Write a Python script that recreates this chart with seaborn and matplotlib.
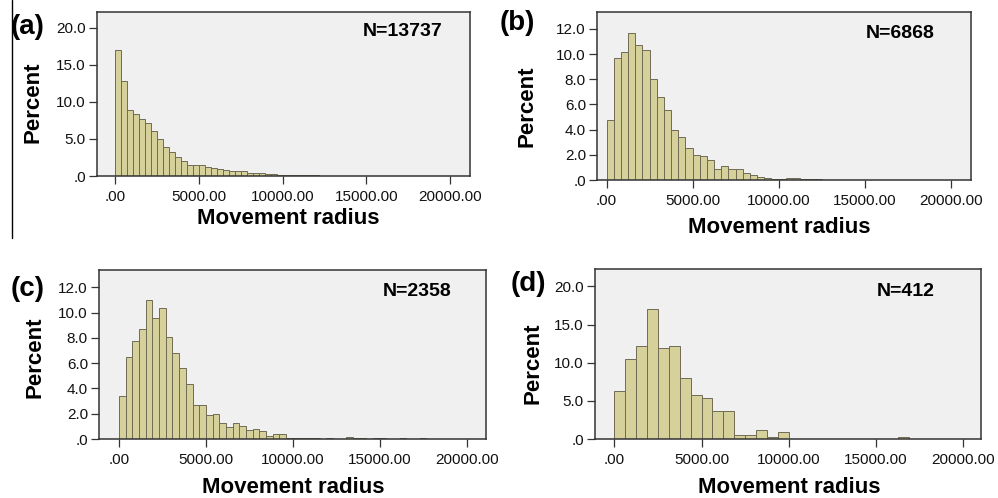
import numpy as np
import pandas as pd
import matplotlib
matplotlib.use("Agg")
import matplotlib.pyplot as plt
from matplotlib.ticker import FuncFormatter
from matplotlib.lines import Line2D
import seaborn as sns

# percent of trips per bin
width_a = 5000 / 14
pct_a = [17.0, 12.9, 8.95, 8.35, 7.7, 7.2, 6.1, 5.0, 3.9, 3.25, 2.5, 2.05, 1.55, 1.5,
         1.55, 1.2, 1.05, 1.0, 0.85, 0.7, 0.7, 0.68, 0.45, 0.42, 0.45, 0.3, 0.22, 0.2,
         0.18, 0.15, 0.12, 0.1, 0.08, 0.07, 0.05, 0.05, 0.04, 0.03, 0.03, 0.02]

width_b = 5000 / 12
pct_b = [4.8, 9.7, 10.2, 11.65, 10.7, 10.3, 8.0, 6.6, 5.57, 3.95, 3.45, 2.55, 2.0, 1.9,
         1.55, 0.88, 1.1, 0.85, 0.85, 0.53, 0.37, 0.27, 0.16, 0.05, 0.1, 0.16, 0.13, 0.05,
         0.08, 0.08, 0.03, 0.03, 0.02, 0.02, 0.03, 0.03, 0.02, 0.03, 0.02, 0.02]

width_c = 5000 / 13
pct_c = [3.42, 6.47, 7.74, 8.7, 10.97, 9.55, 10.34, 8.05, 6.79, 5.58, 4.39, 2.71, 2.66,
         1.9, 1.97, 1.26, 0.95, 1.26, 1.05, 0.71, 0.82, 0.63, 0.21, 0.37, 0.37, 0.04,
         0.04, 0.04, 0.04, 0.04, 0, 0.04, 0, 0, 0.13, 0.04, 0.04, 0, 0.04, 0.04, 0, 0,
         0.04, 0, 0, 0.04]

width_d = 625
pct_d = [6.31, 10.44, 12.14, 16.99, 11.89, 12.14, 8.01, 5.83, 5.34, 3.64, 3.64, 0.49,
         0.49, 1.21, 0.24, 0.97, 0, 0, 0, 0, 0, 0, 0, 0, 0, 0, 0.24]

panel_labels = ["(a)", "(b)", "(c)", "(d)"]
n_labels = ["N=13737", "N=6868", "N=2358", "N=412"]
x_ticks = [0, 5000, 10000, 15000, 20000]
y_ticks_a = [0, 5, 10, 15, 20]
y_ticks_b = [0, 2, 4, 6, 8, 10, 12]
y_ticks_c = [0, 2, 4, 6, 8, 10, 12]
y_ticks_d = [0, 5, 10, 15, 20]

BAR = "#d6d09a"
EDGE = "#6f6b55"
BG = "#f0f0f0"
DARK = "#333333"

W, H = 998, 498

sns.set_theme(style="white")
plt.rcParams["font.family"] = ["Liberation Sans", "DejaVu Sans"]
plt.rcParams["text.color"] = "black"

fig = plt.figure(figsize=(W / 100, H / 100), dpi=100)


def fx(x):
    return x / W


def fy(y):
    return 1 - y / H


# (pixel box: left, top, right, bottom), xlim, ylim, label spots
panels = [
    dict(pct=pct_a, w=width_a, yt=y_ticks_a, box=(97, 12, 470, 176),
         xlim=(-1106, 21200), ytop=22.16,
         lab=(11, 27), n=(443, 32), yl=(33, 102), xl=(288, 218)),
    dict(pct=pct_b, w=width_b, yt=y_ticks_b, box=(597, 12, 971, 180),
         xlim=(-558, 21186), ytop=13.35,
         lab=(500, 23), n=(935, 33), yl=(527, 106), xl=(779, 227)),
    dict(pct=pct_c, w=width_c, yt=y_ticks_c, box=(99, 270, 486, 439),
         xlim=(-1151, 21116), ytop=13.37,
         lab=(11, 289), n=(451, 292), yl=(35, 357), xl=(293, 487)),
    dict(pct=pct_d, w=width_d, yt=y_ticks_d, box=(595, 269, 981, 439),
         xlim=(-1106, 21014), ytop=22.28,
         lab=(511, 284), n=(935, 292), yl=(533, 363), xl=(789, 487)),
]

xfmt = FuncFormatter(lambda v, p: f"{v:.2f}".lstrip("0") if v == 0 else f"{v:.2f}")
yfmt = FuncFormatter(lambda v, p: f"{v:.1f}".lstrip("0") if v == 0 else f"{v:.1f}")

for i, p in enumerate(panels):
    l, t, r, b = p["box"]
    ax = fig.add_axes([fx(l), fy(b), (r - l) / W, (b - t) / H])
    ax.set_facecolor(BG)
    pct = p["pct"]
    edges = [k * p["w"] for k in range(len(pct) + 1)]
    df = pd.DataFrame({
        "radius": [(edges[k] + edges[k + 1]) / 2 for k in range(len(pct))],
        "percent": pct,
    })
    sns.histplot(data=df, x="radius", weights="percent", bins=edges, ax=ax,
                 color=BAR, edgecolor=EDGE, linewidth=0.7, alpha=1.0)
    ax.set_xlim(*p["xlim"])
    ax.set_ylim(0, p["ytop"])
    ax.set_xticks(x_ticks)
    ax.set_yticks(p["yt"])
    ax.xaxis.set_major_formatter(xfmt)
    ax.yaxis.set_major_formatter(yfmt)
    ax.set_xlabel("")
    ax.set_ylabel("")
    ax.grid(False)
    for s in ax.spines.values():
        s.set_color(DARK)
        s.set_linewidth(1.1)
    ax.tick_params(axis="both", direction="out", length=6, width=0.9, color=DARK,
                   labelsize=11, labelcolor="#111111")
    ax.tick_params(axis="x", pad=4)
    ax.tick_params(axis="y", pad=2)
    ax.tick_params(bottom=True, left=True)

    fig.text(fx(p["lab"][0]), fy(p["lab"][1]), panel_labels[i], fontsize=20,
             fontweight="bold", ha="left", va="center")
    fig.text(fx(p["n"][0]), fy(p["n"][1]), n_labels[i], fontsize=14,
             fontweight="bold", ha="right", va="center")
    fig.text(fx(p["yl"][0]), fy(p["yl"][1]), "Percent", fontsize=16,
             fontweight="bold", rotation=90, ha="center", va="center")
    fig.text(fx(p["xl"][0]), fy(p["xl"][1]), "Movement radius", fontsize=16,
             fontweight="bold", ha="center", va="center")

# thin frame line on the left of the top-left panel
fig.add_artist(Line2D([fx(12), fx(12)], [fy(0), fy(238)], color="black", linewidth=1))

fig.savefig("out.png", dpi=100)
